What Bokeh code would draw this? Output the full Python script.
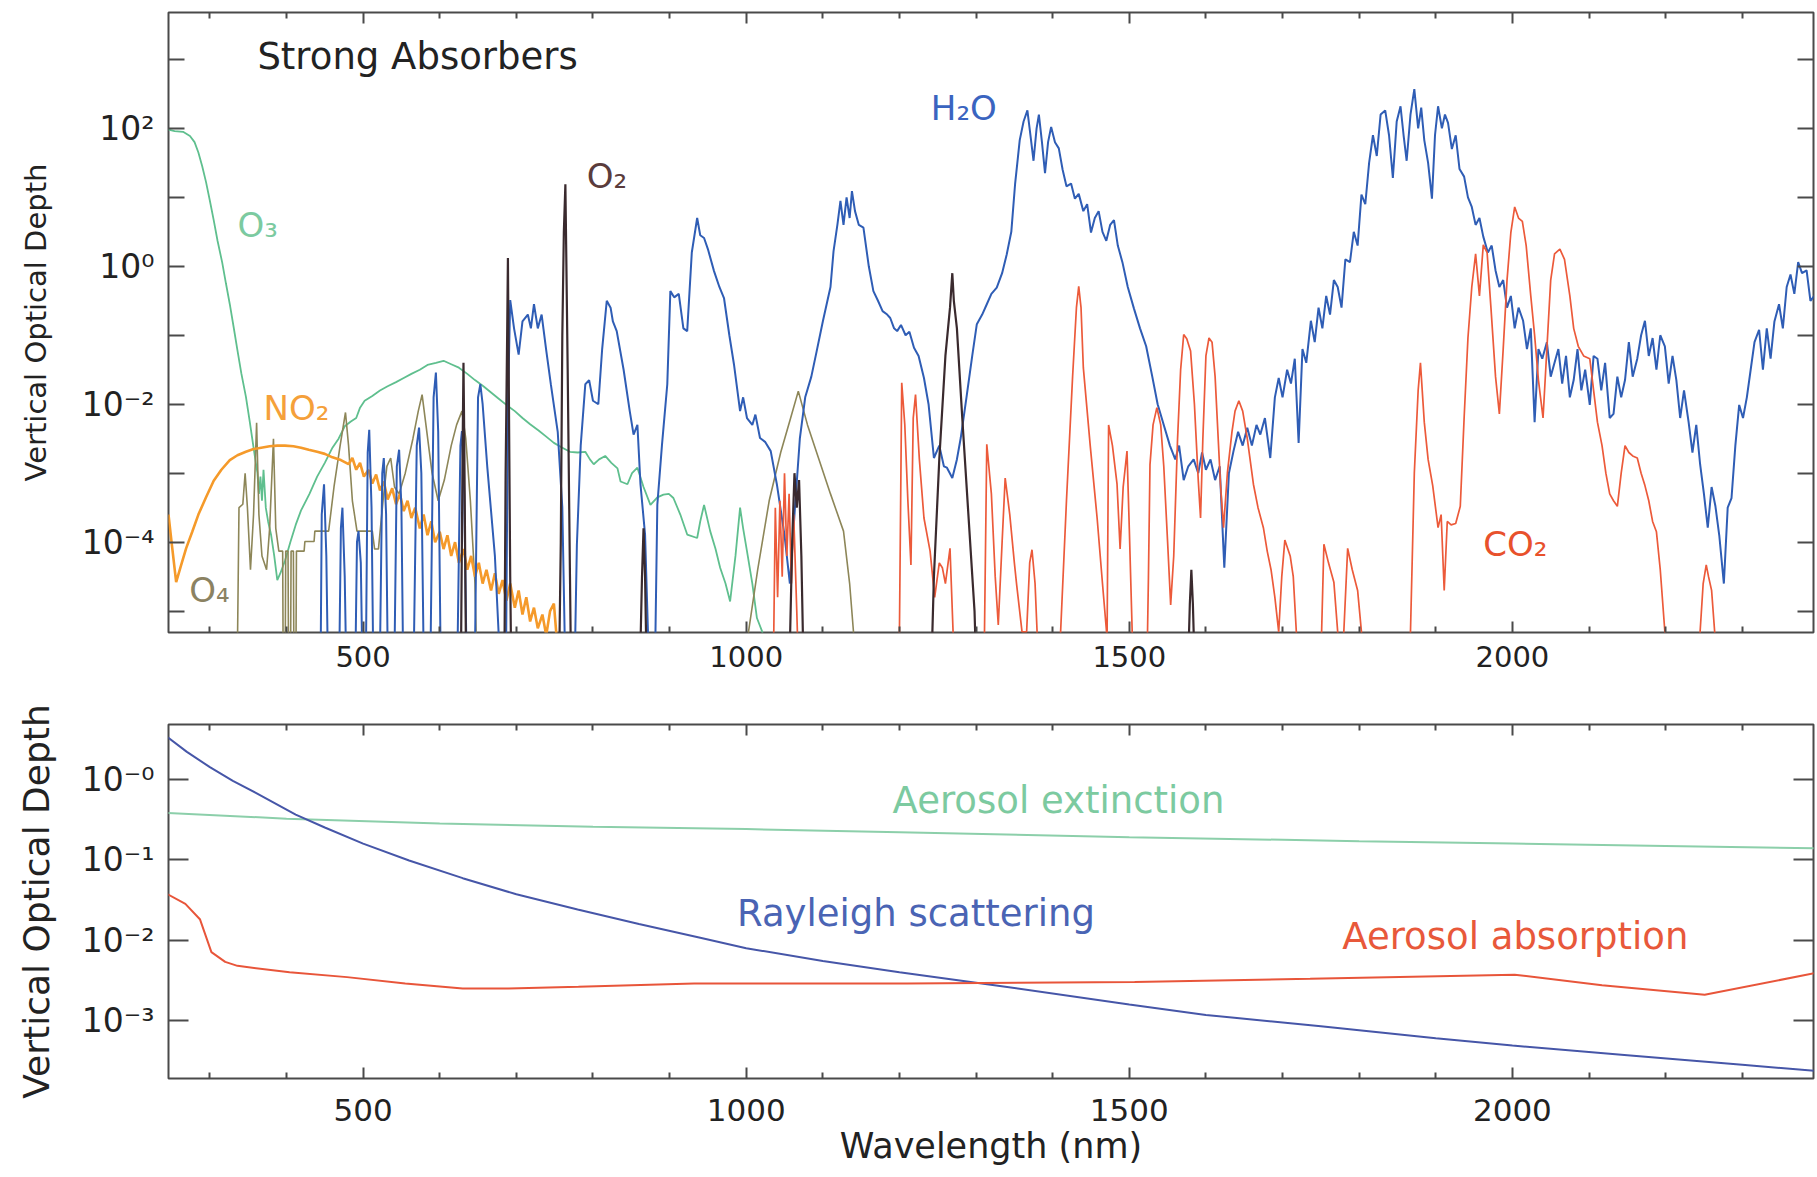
from bokeh.plotting import figure
from bokeh.models import (FixedTicker, LogAxis, LinearAxis, Label, Range1d,
                          CustomJSTickFormatter)
from bokeh.layouts import column
from bokeh.embed import file_html
from bokeh.resources import INLINE

FONT = "DejaVu Sans"
FRAME = "#4a4a4a"
TXT = "#222222"

# ---------------- axes / ticks ----------------
x_ticks = [500, 1000, 1500, 2000]
x_minor = [300, 400, 600, 700, 800, 900, 1100, 1200, 1300, 1400,
           1600, 1700, 1800, 1900, 2100, 2200, 2300]
top_y_ticks = [1e-4, 1e-2, 1.0, 1e2]
top_y_labels = ["10⁻⁴", "10⁻²", "10⁰", "10²"]
top_y_minor = [1e-5, 1e-3, 1e-1, 1e1, 1e3]
bot_y_ticks = [1e-3, 1e-2, 1e-1, 1.0]
bot_y_labels = ["10⁻³", "10⁻²", "10⁻¹", "10⁻⁰"]

# ---------------- top panel: (wavelength nm, log10 optical depth) ----------------
o3 = [(246, 1.98), (254, 1.96), (265, 1.95), (274, 1.89), (280, 1.8), (285, 1.65), (290, 1.45),
      (295, 1.22), (300, 0.95), (305, 0.67), (310, 0.37), (316, 0.06), (321, -0.25), (326, -0.55),
      (331, -0.88), (336, -1.22), (341, -1.55), (347, -1.89), (352, -2.25), (357, -2.63),
      (360, -2.85), (362, -2.99), (364, -3.3), (366, -3.05), (368, -3.4), (370, -2.95), (373, -3.5),
      (376, -3.7), (380, -3.9), (384, -4.2), (388, -4.55), (392, -4.45), (398, -4.27), (405, -4.0),
      (412, -3.75), (419, -3.54), (430, -3.3), (440, -3.05), (450, -2.85), (460, -2.63),
      (468, -2.5), (476, -2.32), (484, -2.25), (491, -2.2), (496, -2.05), (502, -1.95),
      (512, -1.88), (522, -1.8), (532, -1.74), (543, -1.68), (553, -1.62), (563, -1.56),
      (574, -1.5), (584, -1.43), (595, -1.4), (605, -1.37), (615, -1.42), (625, -1.47),
      (636, -1.56), (646, -1.65), (657, -1.74), (667, -1.83), (677, -1.92), (687, -2.01),
      (698, -2.1), (708, -2.2), (718, -2.29), (729, -2.38), (739, -2.47), (749, -2.56),
      (760, -2.63), (770, -2.69), (780, -2.7), (790, -2.69), (796, -2.8), (801, -2.87),
      (808, -2.8), (816, -2.75), (824, -2.85), (832, -2.93), (836, -3.12), (845, -3.16),
      (851, -3.0), (858, -2.92), (866, -3.2), (875, -3.46), (884, -3.35), (892, -3.31),
      (899, -3.3), (905, -3.36), (914, -3.6), (923, -3.89), (936, -3.94), (940, -3.7),
      (945, -3.46), (953, -3.84), (960, -4.1), (966, -4.37), (973, -4.6), (979, -4.86),
      (986, -4.2), (992, -3.5), (996, -3.8), (1001, -4.13), (1008, -4.6), (1014, -5.1),
      (1021, -5.3), (1028, -6.5)]

no2 = [(246, -3.6), (250, -4.0), (256, -4.58), (262, -4.35), (269, -4.09), (277, -3.85),
       (285, -3.6), (295, -3.35), (305, -3.11), (315, -2.95), (326, -2.81), (336, -2.74),
       (347, -2.69), (357, -2.65), (367, -2.63), (378, -2.61), (388, -2.6), (398, -2.6),
       (409, -2.61), (419, -2.63), (429, -2.66), (440, -2.69), (450, -2.72), (460, -2.77),
       (471, -2.81), (481, -2.87), (486, -2.78), (491, -2.95), (496, -2.85), (501, -3.05),
       (507, -2.95), (512, -3.15), (517, -3.02), (522, -3.25), (527, -3.12), (532, -3.38),
       (538, -3.22), (543, -3.45), (548, -3.3), (553, -3.55), (558, -3.4), (563, -3.65),
       (568, -3.5), (574, -3.8), (579, -3.6), (584, -3.9), (589, -3.7), (594, -4.0),
       (600, -3.85), (605, -4.1), (610, -3.9), (615, -4.2), (620, -4.0), (625, -4.3),
       (631, -4.1), (636, -4.4), (641, -4.2), (646, -4.5), (651, -4.3), (656, -4.6),
       (661, -4.4), (667, -4.7), (672, -4.45), (677, -4.75), (682, -4.55), (687, -4.85),
       (692, -4.6), (698, -4.95), (703, -4.7), (708, -5.05), (713, -4.8), (718, -5.15),
       (723, -4.95), (728, -5.25), (734, -5.05), (739, -5.35), (744, -5.0), (749, -4.89),
       (752, -5.3), (756, -5.8), (760, -6.5)]

o4 = [(335, -6.5), (338, -3.5), (343, -3.45), (346, -3.0), (349, -3.5), (353, -4.4),
      (357, -3.6), (361, -2.27), (364, -3.6), (368, -4.2), (374, -4.4), (378, -3.8),
      (383, -2.5), (386, -3.8), (390, -4.13), (395, -4.13), (396, -6.5), (398, -6.5),
      (399, -4.13), (402, -4.13), (403, -6.5), (405, -6.5), (406, -4.13), (409, -4.13),
      (410, -6.5), (412, -6.5), (413, -4.13), (423, -4.13), (424, -3.99), (436, -3.99),
      (437, -3.84), (455, -3.84), (462, -3.2), (470, -2.6), (477, -2.12), (481, -2.6),
      (486, -3.4), (492, -3.84), (512, -3.84), (515, -4.1), (520, -4.1), (526, -3.4),
      (531, -2.9), (536, -2.78), (541, -3.2), (547, -3.3), (555, -3.0), (565, -2.5),
      (572, -2.1), (577, -1.86), (582, -2.3), (590, -3.0), (598, -3.4), (606, -3.1),
      (615, -2.6), (622, -2.3), (629, -2.1), (634, -2.5), (640, -3.4), (646, -4.6),
      (650, -6.5), (1000, -6.5), (1003, -5.3), (1015, -4.4), (1030, -3.4), (1045, -2.7),
      (1058, -2.2), (1068, -1.81), (1080, -2.3), (1095, -2.8), (1110, -3.3), (1127, -3.84),
      (1135, -4.6), (1140, -5.3), (1143, -6.5)]

o2 = [(620, -6.5), (628, -5.3), (630, -2.5), (631, -1.4), (632, -2.5), (634, -5.3), (636, -6.5),
      (684, -6.5), (686, -3.0), (688, -1.0), (689, 0.12), (690, -1.5), (692, -4.5), (694, -6.5),
      (755, -6.5), (758, -4.0), (760, -1.0), (762, 0.5), (764, 1.19), (765, 0.3), (767, -1.5),
      (770, -4.5), (772, -6.5),
      (860, -6.5), (864, -4.5), (866, -3.8), (868, -4.5), (871, -6.5),
      (1055, -6.5), (1060, -4.0), (1063, -3.0), (1066, -3.5), (1069, -3.1), (1072, -4.2),
      (1076, -6.5),
      (1240, -6.5), (1245, -4.5), (1252, -2.8), (1260, -1.3), (1266, -0.6), (1269, -0.1),
      (1271, -0.5), (1275, -0.9), (1282, -2.2), (1290, -3.6), (1298, -5.0), (1302, -6.5),
      (1575, -6.5), (1579, -4.9), (1581, -4.4), (1583, -4.9), (1587, -6.5)]

co2 = [(1030, -6.5), (1036, -5.3), (1038, -3.5), (1041, -4.8), (1044, -3.4), (1047, -4.5),
       (1050, -3.0), (1053, -4.2), (1056, -3.3), (1059, -4.6), (1062, -3.6), (1066, -5.0),
       (1070, -6.5),
       (1195, -6.5), (1200, -5.3), (1203, -1.69), (1207, -2.3), (1211, -3.4), (1215, -4.33),
       (1218, -2.2), (1221, -1.86), (1226, -2.8), (1232, -3.65), (1240, -4.13), (1246, -4.8),
       (1252, -4.3), (1256, -4.37), (1260, -4.6), (1266, -4.09), (1270, -5.3), (1273, -6.5),
       (1308, -6.5), (1311, -5.3), (1314, -2.58), (1320, -3.3), (1325, -4.5), (1329, -5.2),
       (1334, -4.0), (1338, -3.07), (1344, -3.6), (1350, -4.3), (1353, -4.62), (1360, -5.3),
       (1366, -5.3), (1370, -4.3), (1373, -4.11), (1377, -4.6), (1380, -5.39), (1384, -6.5),
       (1405, -6.5), (1410, -5.39), (1418, -3.4), (1426, -1.6), (1431, -0.6), (1434, -0.29),
       (1437, -0.6), (1440, -1.47), (1449, -2.6), (1458, -3.65), (1465, -4.6), (1471, -5.39),
       (1473, -2.3), (1478, -2.6), (1484, -3.16), (1488, -4.1), (1492, -3.2), (1497, -2.68),
       (1500, -3.8), (1504, -5.39), (1510, -6.5),
       (1522, -6.5), (1525, -4.5), (1527, -2.88), (1531, -2.3), (1536, -2.05), (1541, -2.3),
       (1545, -2.9), (1550, -4.0), (1554, -4.91), (1558, -4.2), (1563, -2.5), (1567, -1.5),
       (1571, -0.99), (1575, -1.05), (1580, -1.23), (1585, -2.0), (1590, -3.1), (1593, -3.65),
       (1596, -2.5), (1600, -1.3), (1604, -1.04), (1608, -1.1), (1612, -1.6), (1619, -3.16),
       (1623, -3.79), (1628, -3.0), (1634, -2.4), (1638, -2.1), (1643, -1.95), (1648, -2.1),
       (1654, -2.5), (1662, -3.16), (1668, -3.5), (1675, -3.79), (1680, -4.13), (1685, -4.4),
       (1690, -4.8), (1695, -5.3), (1699, -4.5), (1703, -3.97), (1710, -4.2), (1714, -4.5),
       (1718, -5.3), (1722, -6.5),
       (1748, -6.5), (1751, -5.3), (1754, -4.03), (1760, -4.3), (1767, -4.58), (1772, -5.3),
       (1776, -6.5), (1780, -5.3), (1785, -4.09), (1791, -4.4), (1798, -4.7), (1803, -5.3),
       (1806, -6.5),
       (1862, -6.5), (1867, -5.3), (1872, -3.0), (1877, -1.8), (1880, -1.4), (1885, -2.26),
       (1890, -2.8), (1896, -3.18), (1903, -3.79), (1907, -3.6), (1911, -4.7), (1915, -3.7),
       (1920, -3.75), (1926, -3.73), (1932, -3.48), (1937, -2.2), (1942, -1.04), (1947, -0.3),
       (1952, 0.18), (1957, -0.43), (1962, 0.31), (1967, 0.2), (1972, -0.6), (1978, -1.6),
       (1983, -2.14), (1988, -1.2), (1993, -0.2), (1998, 0.49), (2003, 0.86), (2008, 0.7),
       (2013, 0.65), (2018, 0.3), (2024, -0.43), (2029, -1.0), (2034, -1.65), (2040, -2.2),
       (2045, -1.2), (2050, -0.2), (2055, 0.18), (2062, 0.25), (2068, 0.1), (2075, -0.43),
       (2080, -0.9), (2086, -1.16), (2093, -1.3), (2101, -1.34), (2106, -1.8), (2111, -2.26),
       (2117, -2.6), (2122, -3.0), (2127, -3.3), (2132, -3.4), (2137, -3.48), (2142, -3.0),
       (2147, -2.6), (2152, -2.7), (2157, -2.75), (2163, -2.78), (2168, -3.0), (2173, -3.18),
       (2178, -3.4), (2183, -3.7), (2188, -3.85), (2193, -4.4), (2199, -5.3), (2203, -6.5),
       (2240, -6.5), (2245, -5.3), (2249, -4.6), (2253, -4.33), (2256, -4.5), (2260, -4.7),
       (2264, -5.3), (2268, -6.5)]

h2o = [(400, -6.5), (444, -6.5), (446, -3.6), (449, -3.16), (452, -4.2), (455, -6.5),
       (468, -6.5), (471, -3.8), (473, -3.5), (476, -4.5), (479, -6.5),
       (489, -6.5), (492, -4.0), (494, -3.84), (497, -4.3), (500, -6.5),
       (503, -6.5), (506, -2.7), (508, -2.37), (511, -3.5), (514, -6.5),
       (521, -6.5), (525, -3.0), (527, -2.78), (530, -3.6), (533, -6.5),
       (540, -6.5), (544, -2.9), (547, -2.66), (550, -3.5), (553, -6.5),
       (565, -6.5), (570, -2.6), (573, -2.34), (576, -3.0), (580, -6.5),
       (587, -6.5), (592, -1.9), (595, -1.54), (598, -2.4), (602, -6.5),
       (622, -6.5), (627, -2.6), (629, -2.39), (632, -3.3), (636, -6.5),
       (645, -6.5), (650, -1.9), (653, -1.71), (656, -2.0), (662, -2.9), (672, -4.2), (682, -6.5),
       (686, -6.5), (689, -2.0), (692, -0.49), (697, -0.9), (703, -1.28), (708, -0.8),
       (715, -0.7), (719, -0.9), (723, -0.55), (728, -0.9), (733, -0.7), (739, -1.22),
       (745, -1.71), (754, -2.4), (760, -3.5), (765, -6.5),
       (775, -6.5), (779, -4.04), (784, -2.6), (790, -1.71), (795, -1.65), (800, -1.95),
       (807, -2.0), (812, -1.2), (818, -0.5), (823, -0.6), (826, -0.8), (831, -0.94),
       (840, -1.5), (848, -2.1), (853, -2.44), (858, -2.3), (862, -3.16), (868, -3.89), (875, -6.5),
       (880, -6.5), (884, -3.46), (890, -2.6), (897, -1.71), (901, -0.36), (906, -0.45),
       (912, -0.4), (918, -0.9), (923, -0.94), (929, 0.2), (936, 0.7), (940, 0.45), (945, 0.41),
       (950, 0.25), (958, -0.07), (965, -0.3), (971, -0.46), (978, -1.0), (984, -1.42),
       (992, -2.1), (996, -1.9), (1001, -2.2), (1008, -2.3), (1012, -2.15), (1018, -2.49),
       (1025, -2.55), (1032, -2.68), (1040, -3.16), (1050, -3.9), (1057, -4.6), (1063, -3.6),
       (1070, -2.5), (1077, -1.9), (1085, -1.6), (1092, -1.23), (1100, -0.8), (1106, -0.5),
       (1110, -0.3), (1114, 0.22), (1119, 0.6), (1123, 0.95), (1127, 0.6), (1131, 1.0),
       (1135, 0.7), (1138, 1.09), (1142, 0.8), (1147, 0.6), (1153, 0.56), (1160, 0.0),
       (1166, -0.36), (1172, -0.5), (1178, -0.65), (1184, -0.7), (1188, -0.75), (1193, -0.9),
       (1197, -0.94), (1202, -0.85), (1208, -1.0), (1213, -0.95), (1219, -1.18), (1225, -1.3),
       (1232, -1.62), (1238, -2.0), (1245, -2.78), (1252, -2.6), (1258, -2.9), (1262, -2.92),
       (1269, -3.07), (1275, -2.8), (1280, -2.49), (1288, -1.86), (1295, -1.3), (1301, -0.84),
       (1308, -0.7), (1314, -0.55), (1320, -0.4), (1327, -0.31), (1334, -0.1), (1340, 0.17),
       (1346, 0.5), (1351, 1.2), (1357, 1.83), (1362, 2.1), (1367, 2.26), (1371, 1.9),
       (1375, 1.53), (1379, 2.0), (1382, 2.2), (1386, 1.8), (1390, 1.35), (1394, 1.8),
       (1398, 2.02), (1403, 1.8), (1408, 1.71), (1413, 1.4), (1418, 1.16), (1424, 1.2),
       (1429, 0.98), (1434, 1.05), (1440, 0.8), (1445, 0.9), (1450, 0.49), (1455, 0.7),
       (1460, 0.8), (1465, 0.5), (1470, 0.37), (1475, 0.6), (1480, 0.67), (1485, 0.3),
       (1491, 0.06), (1498, -0.3), (1506, -0.61), (1514, -0.9), (1522, -1.16), (1530, -1.6),
       (1537, -2.0), (1545, -2.3), (1553, -2.6), (1560, -2.8), (1565, -2.6), (1571, -3.1),
       (1577, -2.9), (1584, -2.8), (1590, -3.0), (1595, -2.7), (1600, -2.95), (1606, -2.8),
       (1612, -3.1), (1618, -2.9), (1624, -4.37), (1630, -3.0), (1636, -2.68), (1642, -2.4),
       (1648, -2.6), (1654, -2.34), (1660, -2.6), (1666, -2.3), (1671, -2.44), (1677, -2.2),
       (1684, -2.78), (1690, -1.9), (1695, -1.62), (1700, -1.9), (1706, -1.5), (1711, -1.7),
       (1716, -1.34), (1721, -2.56), (1726, -1.2), (1731, -1.4), (1737, -0.79), (1742, -1.1),
       (1747, -0.6), (1752, -0.9), (1757, -0.43), (1762, -0.7), (1767, -0.2), (1772, -0.3),
       (1777, -0.6), (1782, 0.1), (1788, 0.06), (1793, 0.5), (1798, 0.3), (1803, 1.04),
       (1808, 0.9), (1813, 1.5), (1818, 1.9), (1823, 1.6), (1828, 2.2), (1834, 2.26),
       (1839, 1.9), (1844, 1.28), (1849, 2.1), (1854, 2.32), (1858, 1.9), (1862, 1.53),
       (1867, 2.2), (1872, 2.57), (1877, 2.0), (1881, 2.3), (1885, 1.83), (1890, 1.5),
       (1895, 0.98), (1899, 1.9), (1903, 2.32), (1908, 2.0), (1912, 2.2), (1916, 2.08),
       (1921, 1.7), (1926, 1.9), (1931, 1.41), (1937, 1.3), (1942, 1.0), (1947, 0.86),
       (1952, 0.6), (1957, 0.7), (1962, 0.43), (1968, 0.2), (1973, 0.3), (1978, -0.06),
       (1983, -0.3), (1988, -0.2), (1993, -0.6), (1998, -0.43), (2003, -0.9), (2008, -0.6),
       (2014, -0.79), (2019, -1.2), (2024, -0.9), (2029, -2.26), (2034, -1.2), (2039, -1.34),
       (2045, -1.1), (2050, -1.6), (2055, -1.4), (2060, -1.2), (2065, -1.7), (2070, -1.3),
       (2075, -1.9), (2080, -1.65), (2085, -1.2), (2090, -1.8), (2095, -1.5), (2101, -2.01),
       (2106, -1.3), (2111, -1.34), (2116, -1.8), (2121, -1.4), (2127, -2.2), (2132, -2.14),
       (2137, -1.6), (2142, -1.9), (2147, -1.65), (2152, -1.1), (2157, -1.6), (2163, -1.34),
       (2168, -1.0), (2173, -0.79), (2178, -1.3), (2183, -1.04), (2188, -1.5), (2193, -1.0),
       (2199, -1.16), (2204, -1.7), (2209, -1.3), (2214, -1.65), (2219, -2.2), (2224, -1.8),
       (2230, -2.26), (2235, -2.7), (2240, -2.3), (2245, -2.87), (2250, -3.3), (2255, -3.79),
       (2260, -3.2), (2265, -3.48), (2270, -3.9), (2276, -4.6), (2281, -3.5), (2286, -3.36),
       (2291, -2.6), (2296, -2.01), (2301, -2.2), (2306, -1.9), (2311, -1.5), (2316, -1.1),
       (2322, -0.92), (2327, -1.5), (2332, -0.9), (2337, -1.34), (2342, -0.8), (2348, -0.55),
       (2353, -0.9), (2358, -0.3), (2363, -0.12), (2368, -0.4), (2373, 0.06), (2378, -0.1),
       (2384, -0.06), (2389, -0.5), (2394, -0.43), (2400, -0.3)]

# ---------------- bottom panel ----------------
ray_nm = [245, 270, 300, 330, 360, 412, 450, 500, 560, 630, 700, 780, 860, 940, 1000, 1100,
          1200, 1324, 1500, 1600, 1750, 1900, 2000, 2150, 2300, 2400]
ray_lg = [0.52, 0.34, 0.15, -0.02, -0.17, -0.44, -0.60, -0.80, -1.01, -1.23, -1.43, -1.62,
          -1.80, -1.97, -2.10, -2.26, -2.40, -2.56, -2.80, -2.93, -3.07, -3.22, -3.31, -3.43,
          -3.55, -3.63]
ext_nm = [245, 400, 600, 800, 1000, 1200, 1500, 1800, 2000, 2200, 2400]
ext_lg = [-0.42, -0.49, -0.55, -0.59, -0.62, -0.66, -0.72, -0.77, -0.80, -0.83, -0.86]
abs_nm = [245, 268, 287, 302, 320, 336, 404, 479, 555, 630, 690, 781, 932, 1210, 1507,
          1736, 2003, 2117, 2251, 2400]
abs_lg = [-1.43, -1.55, -1.74, -2.15, -2.27, -2.32, -2.40, -2.46, -2.54, -2.60, -2.60,
          -2.58, -2.54, -2.54, -2.52, -2.48, -2.43, -2.56, -2.68, -2.40]

X_LO, X_HI = 246, 2393


def split(pairs):
    return [p[0] for p in pairs], [10 ** p[1] for p in pairs]


def fmt(ticks, labels):
    return CustomJSTickFormatter(args=dict(vals=ticks, labs=labels), code="""
        for (let i = 0; i < vals.length; i++) {
            if (Math.abs(Math.log10(vals[i]) - Math.log10(tick)) < 1e-6) { return labs[i]; }
        }
        return '';
    """)


def style_axis(ax, tick_len, minor_len, font_size, standoff):
    ax.axis_line_color = None
    ax.major_tick_in = tick_len
    ax.major_tick_out = 0
    ax.minor_tick_in = minor_len
    ax.minor_tick_out = 0
    ax.major_tick_line_color = FRAME
    ax.minor_tick_line_color = FRAME
    ax.major_tick_line_width = 2
    ax.minor_tick_line_width = 2
    ax.major_label_text_font = FONT
    ax.major_label_text_font_size = font_size
    ax.major_label_text_color = TXT
    ax.major_label_standoff = standoff


def make_fig(height, ylo, yhi, bt, bb):
    p = figure(width=1815, height=height, x_range=Range1d(X_LO, X_HI),
               y_range=Range1d(10 ** ylo, 10 ** yhi), y_axis_type="log",
               output_backend="svg", toolbar_location=None,
               min_border_left=168, min_border_right=2, min_border_top=bt,
               min_border_bottom=bb, background_fill_color="white",
               border_fill_color="white", outline_line_color=FRAME,
               outline_line_width=2)
    p.grid.visible = False
    return p


def add_frame_axes(p, yt, ymin, ylen, xfs, xstand, yfs, ylabels, ylab_fs, lab_stand):
    bottom = p.below[0]
    left = p.left[0]
    bottom.ticker = FixedTicker(ticks=x_ticks, minor_ticks=x_minor)
    style_axis(bottom, 11, 6, xfs, xstand)
    left.ticker = FixedTicker(ticks=yt, minor_ticks=ymin)
    left.formatter = fmt(yt, ylabels)
    style_axis(left, ylen, ylen, yfs, 14)
    left.axis_label = "Vertical Optical Depth"
    left.axis_label_text_font = FONT
    left.axis_label_text_font_style = "normal"
    left.axis_label_text_font_size = ylab_fs
    left.axis_label_text_color = TXT
    left.axis_label_standoff = lab_stand
    top = LinearAxis(ticker=FixedTicker(ticks=x_ticks, minor_ticks=x_minor))
    style_axis(top, 11, 6, "0px", 0)
    top.major_label_text_color = None
    p.add_layout(top, "above")
    right = LogAxis(ticker=FixedTicker(ticks=yt, minor_ticks=ymin))
    style_axis(right, ylen, ylen, "0px", 0)
    right.major_label_text_color = None
    p.add_layout(right, "right")
    return bottom


# ---------------- top figure ----------------
p1 = make_fig(692, -5.31, 3.68, 12, 60)
add_frame_axes(p1, top_y_ticks, top_y_minor, 16, "29px", 13, "33px", top_y_labels, "29px", 26)

x, y = split(o3)
p1.line(x, y, line_color="#5fbf8e", line_width=1.8)
x, y = split(o4)
p1.line(x, y, line_color="#8d8658", line_width=1.6)
x, y = split(no2)
p1.line(x, y, line_color="#f59a2a", line_width=2.6)
x, y = split(h2o)
p1.line(x, y, line_color="#2f5db5", line_width=2)
x, y = split(co2)
p1.line(x, y, line_color="#ec5a3a", line_width=1.7)
x, y = split(o2)
p1.line(x, y, line_color="#3a2a2e", line_width=2.2)

top_labels = [
    ("Strong Absorbers", 362, 3.04, "#222222", "37px"),
    ("O₃", 336, 0.60, "#7ccaa0", "34px"),
    ("NO₂", 370, -2.06, "#f5a03a", "34px"),
    ("O₄", 273, -4.70, "#8b8262", "34px"),
    ("O₂", 792, 1.31, "#5a3c3c", "34px"),
    ("H₂O", 1241, 2.29, "#3a64c0", "34px"),
    ("CO₂", 1962, -4.03, "#e8512c", "34px"),
]
for t, xx, ly, c, fs in top_labels:
    p1.add_layout(Label(x=xx, y=10 ** ly, text=t, text_font=FONT, text_font_size=fs,
                        text_color=c, text_baseline="middle", text_align="left"))

# ---------------- bottom figure ----------------
p2 = make_fig(485, -3.72, 0.68, 32, 99)
b2 = add_frame_axes(p2, bot_y_ticks, [], 20, "31px", 20, "33px", bot_y_labels, "36px", 22)
b2.axis_label = "Wavelength (nm)"
b2.axis_label_text_font = FONT
b2.axis_label_text_font_style = "normal"
b2.axis_label_text_font_size = "35px"
b2.axis_label_text_color = TXT
b2.axis_label_standoff = 2

p2.line(ext_nm, [10 ** v for v in ext_lg], line_color="#8ccfaa", line_width=2)
p2.line(ray_nm, [10 ** v for v in ray_lg], line_color="#4656a8", line_width=2)
p2.line(abs_nm, [10 ** v for v in abs_lg], line_color="#e8553a", line_width=2)

bot_labels = [
    ("Aerosol extinction", 1191, -0.26, "#7ccaa0"),
    ("Rayleigh scattering", 988, -1.67, "#4a64b4"),
    ("Aerosol absorption", 1778, -1.95, "#e8583a"),
]
for t, xx, ly, c in bot_labels:
    p2.add_layout(Label(x=xx, y=10 ** ly, text=t, text_font=FONT, text_font_size="37px",
                        text_color=c, text_baseline="middle", text_align="left"))

layout = column(p1, p2, spacing=0)
open("out.html", "w").write(file_html(layout, INLINE))
